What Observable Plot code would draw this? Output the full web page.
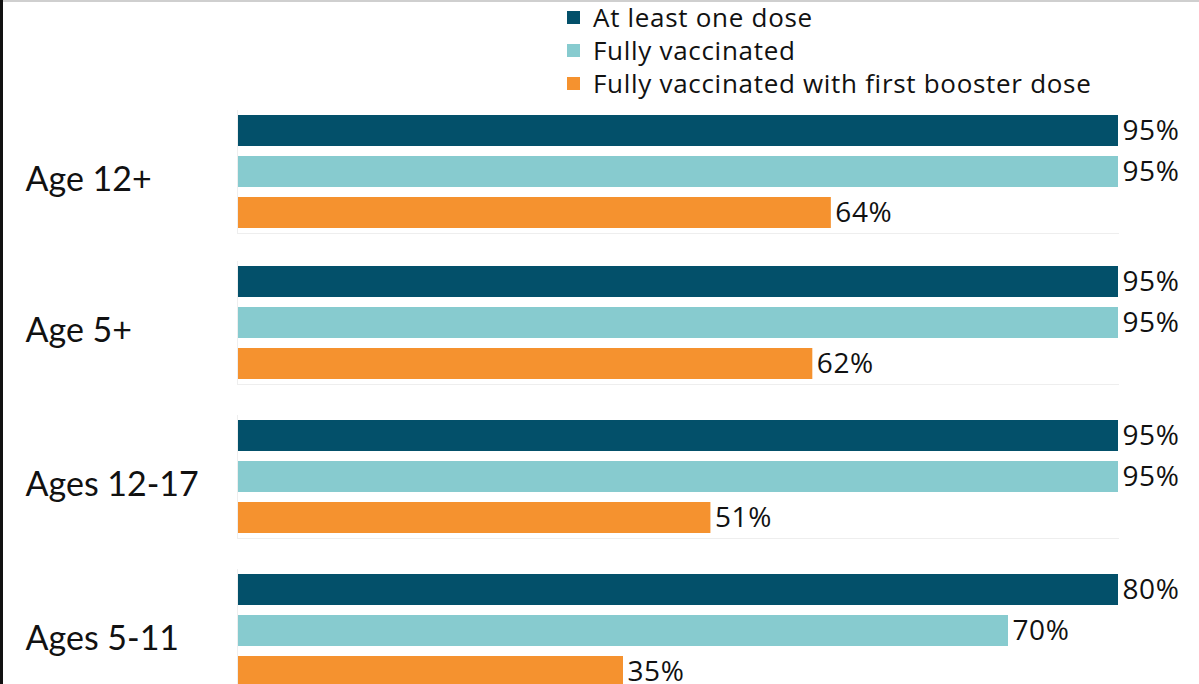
<!DOCTYPE html>
<html>
<head>
<meta charset="utf-8">
<script src="https://cdn.jsdelivr.net/npm/d3@7"></script>
<script src="https://cdn.jsdelivr.net/npm/@observablehq/plot@0.6"></script>
<style>
  html, body { margin: 0; padding: 0; background: #fff; }
  #wrap { position: relative; width: 1199px; height: 684px; overflow: hidden; background: #fff; font-family: Lato, "Open Sans", sans-serif; }
  #leftBorder { position: absolute; left: 0; top: 0; width: 3px; height: 684px; background: #111; }
  #topBorder { position: absolute; left: 3px; top: 0; width: 1196px; height: 2px; background: #cfcfcf; }
  #legend { position: absolute; left: 567px; top: 1px; }
  .lg { position: absolute; left: 0; white-space: nowrap; display: flex; align-items: center; font-family: "Open Sans", sans-serif; font-size: 26px; letter-spacing: 0.7px; color: #111; height: 33px; line-height: 33px; }
  .sw { width: 13px; height: 13px; margin-right: 13px; display: inline-block; }
  .grp { position: absolute; left: 0; }
</style>
</head>
<body>
<div id="wrap">
  <div id="leftBorder"></div>
  <div id="topBorder"></div>
  <div id="legend"></div>
</div>
<script>
const groups = ["Age 12+", "Age 5+", "Ages 12-17", "Ages 5-11"];
const series = ["At least one dose", "Fully vaccinated", "Fully vaccinated with first booster dose"];
const atLeastOneDose = [95, 95, 95, 80];
const fullyVaccinated = [95, 95, 95, 70];
const firstBooster = [64, 62, 51, 35];
const colors = ["#03506a", "#87cbcf", "#f5922f"];

const seriesValues = [atLeastOneDose, fullyVaccinated, firstBooster];
const groupTops = [115, 266, 420, 574];

const wrap = document.getElementById("wrap");
const legend = document.getElementById("legend");
series.forEach((s, i) => {
  const row = document.createElement("div");
  row.className = "lg";
  row.style.top = (i * 33) + "px";
  row.innerHTML = `<span class="sw" style="background:${colors[i]}"></span><span>${s}</span>`;
  legend.appendChild(row);
});

groups.forEach((g, gi) => {
  const data = series.map((s, si) => ({group: g, series: s, value: seriesValues[si][gi]}));
  const maxV = d3.max(data, d => d.value);
  const chart = Plot.plot({
    width: 1199,
    height: 123,
    marginTop: 5,
    marginBottom: 5,
    marginLeft: 238,
    marginRight: 81,
    style: {background: "transparent", overflow: "visible", fontFamily: "Lato, 'Open Sans', sans-serif"},
    x: {domain: [0, maxV], axis: null},
    y: {domain: series, paddingInner: 10 / 41, paddingOuter: 0, axis: null},
    color: {domain: series, range: colors},
    marks: [
      Plot.frame({anchor: "bottom", stroke: "#eeeeee", insetBottom: -5}),
      Plot.frame({anchor: "left", stroke: "#eeeeee", insetTop: -5, insetBottom: -5, dx: -1}),
      Plot.barX(data, {x: "value", y: "series", fill: "series"}),
      Plot.text(data, {x: "value", y: "series", text: d => d.value + "%", dx: 4, dy: 0, textAnchor: "start", fontSize: 28, fill: "#111", fontFamily: "'Open Sans', sans-serif"}),
      Plot.text([g], {text: d => d, frameAnchor: "left", dx: -213, dy: 8, textAnchor: "start", fontSize: 34, fill: "#111"})
    ]
  });
  chart.querySelectorAll("text").forEach(t => { if (/%$/.test(t.textContent)) t.setAttribute("letter-spacing", "0.6"); });
  const div = document.createElement("div");
  div.className = "grp";
  div.style.top = (groupTops[gi] - 5) + "px";
  div.appendChild(chart);
  wrap.appendChild(div);
});
</script>
</body>
</html>
